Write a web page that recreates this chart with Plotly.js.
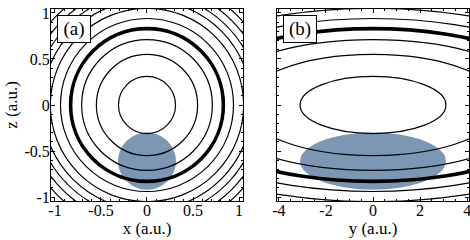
<!DOCTYPE html>
<html>
<head>
<meta charset="utf-8">
<script src="https://cdn.plot.ly/plotly-3.0.1.min.js"></script>
<style>
  html, body { margin: 0; padding: 0; background: #fff; }
  #chart { width: 470px; height: 240px; }
</style>
</head>
<body>
<div id="chart"></div>
<script>
// contour radii, in a.u. (circles centred on origin)
var circleR = [0.31, 0.55, 0.71, 0.94, 1.05, 1.14, 1.22, 1.30, 1.38];
var thickR = 0.83;

// panel (b): same levels, z semi-axes as above, y semi-axes
var ellipseZ = [0.31, 0.55, 0.71, 0.94, 1.05, 1.14, 1.22, 1.30, 1.38];
var ellipseY = [3.1, 5.5, 7.1, 9.4, 10.5, 11.4, 12.2, 13.0, 13.8];
var thickZ = 0.83;
var thickY = 8.3;

// shaded wave-packet blobs: centre and semi-axes
var blobA = {cx: 0, cz: -0.61, rx: 0.315, rz: 0.31};
var blobB = {cy: 0, cz: -0.61, ry: 3.1, rz: 0.31};

var panelLabels = ['(a)', '(b)'];

var serif = '"Liberation Serif", "Times New Roman", serif';
var blue = '#7c97b4';

function ell(xr, yr, cx, cy, a, b, w, fill) {
  return {
    type: 'circle', xref: xr, yref: yr,
    x0: cx - a, x1: cx + a, y0: cy - b, y1: cy + b,
    line: {color: fill ? 'rgba(0,0,0,0)' : 'black', width: fill ? 0 : w},
    fillcolor: fill || 'rgba(0,0,0,0)'
  };
}

var shapes = [];
shapes.push(ell('x', 'y', blobA.cx, blobA.cz, blobA.rx, blobA.rz, 0, blue));
shapes.push(ell('x2', 'y2', blobB.cy, blobB.cz, blobB.ry, blobB.rz, 0, blue));
circleR.forEach(function(r) { shapes.push(ell('x', 'y', 0, 0, r, r, 1.2)); });
shapes.push(ell('x', 'y', 0, 0, thickR, thickR, 3.6));
ellipseZ.forEach(function(rz, i) { shapes.push(ell('x2', 'y2', 0, 0, ellipseY[i], rz, 1.2)); });
shapes.push(ell('x2', 'y2', 0, 0, thickY, thickZ, 3.6));

var data = [
  {x: [], y: [], type: 'scatter', xaxis: 'x', yaxis: 'y', showlegend: false},
  {x: [], y: [], type: 'scatter', xaxis: 'x2', yaxis: 'y2', showlegend: false}
];

var axBase = {
  showline: true, linecolor: 'black', linewidth: 1, mirror: 'allticks',
  ticks: 'inside', ticklen: 4, tickcolor: 'black', tickwidth: 1,
  showgrid: false, zeroline: false, fixedrange: true,
  ticklabeloverflow: 'allow', ticklabelstandoff: -3,
  tickfont: {family: serif, size: 16, color: 'black'}
};
function ax(extra) { return Object.assign({}, axBase, extra); }
var titleFont = {family: serif, size: 17, color: 'black'};

var layout = {
  width: 470, height: 240,
  margin: {l: 0, r: 0, t: 0, b: 0},
  paper_bgcolor: 'white', plot_bgcolor: 'white',
  showlegend: false,
  xaxis: ax({domain: [0.1085, 0.517], range: [-1.043, 1.043], anchor: 'y',
    ticklabelstandoff: -5,
    tickvals: [-1, -0.5, 0, 0.5, 1], ticktext: ['-1', '-0.5', '0', '0.5', '1'],
    minor: {ticks: 'inside', ticklen: 2, dtick: 0.1, tickcolor: 'black'},
    title: {text: 'x (a.u.)', font: titleFont, standoff: 1}}),
  yaxis: ax({domain: [0.1625, 0.9625], range: [-1.043, 1.043], anchor: 'x',
    tickvals: [-1, -0.5, 0, 0.5, 1], ticktext: ['-1', '-0.5', '0', '0.5', '1'],
    minor: {ticks: 'inside', ticklen: 2, dtick: 0.1, tickcolor: 'black'},
    title: {text: 'z (a.u.)', font: titleFont, standoff: 2}}),
  xaxis2: ax({domain: [0.5894, 0.9979], range: [-4.08, 4.08], anchor: 'y2',
    ticklabelstandoff: -5,
    tickvals: [-4, -2, 0, 2, 4], ticktext: ['-4', '-2', '0', '2', '4'],
    minor: {ticks: 'inside', ticklen: 2, dtick: 0.5, tickcolor: 'black'},
    title: {text: 'y (a.u.)', font: titleFont, standoff: 1}}),
  yaxis2: ax({domain: [0.1625, 0.9625], range: [-1.043, 1.043], anchor: 'x2',
    tickvals: [-1, -0.5, 0, 0.5, 1], showticklabels: false,
    minor: {ticks: 'inside', ticklen: 2, dtick: 0.1, tickcolor: 'black'}}),
  shapes: shapes,
  annotations: [
    {text: panelLabels[0], xref: 'x domain', yref: 'y domain', x: 0.03, y: 0.97,
     xanchor: 'left', yanchor: 'top', showarrow: false, width: 30, height: 24,
     bgcolor: 'white', bordercolor: 'black', borderwidth: 1, borderpad: 1,
     font: {family: serif, size: 19, color: 'black'}},
    {text: panelLabels[1], xref: 'x2 domain', yref: 'y2 domain', x: 0.03, y: 0.97,
     xanchor: 'left', yanchor: 'top', showarrow: false, width: 30, height: 24,
     bgcolor: 'white', bordercolor: 'black', borderwidth: 1, borderpad: 1,
     font: {family: serif, size: 19, color: 'black'}}
  ]
};

Plotly.newPlot('chart', data, layout, {displayModeBar: false, staticPlot: true});
</script>
</body>
</html>
